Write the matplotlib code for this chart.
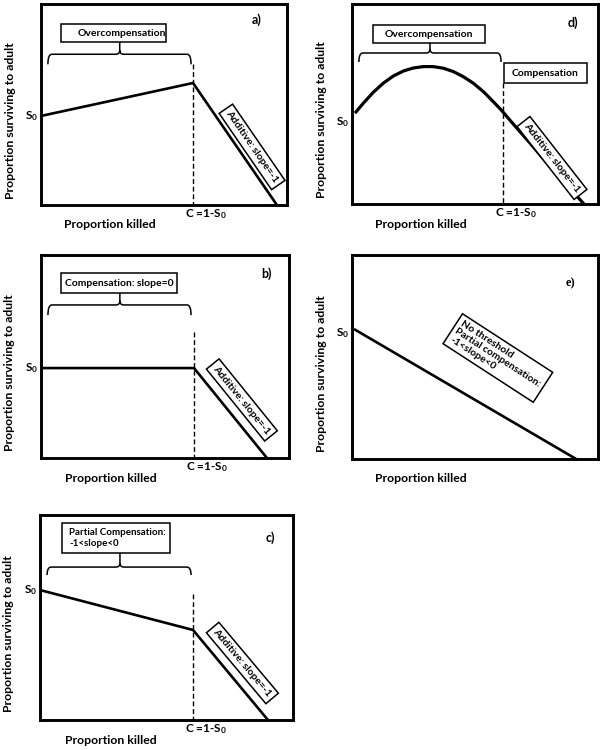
import numpy as np
import matplotlib
matplotlib.use('Agg')
import matplotlib.pyplot as plt
from matplotlib.path import Path
from matplotlib.patches import PathPatch, Rectangle

plt.rcParams['font.family'] = ['Lato', 'DejaVu Sans']
plt.rcParams['font.weight'] = 'bold'
plt.rcParams['mathtext.fontset'] = 'custom'
plt.rcParams['mathtext.rm'] = 'Lato:bold'
plt.rcParams['mathtext.it'] = 'Lato:bold'

# survival curves, x = proportion killed, y = proportion surviving (0..1 scale of each panel)
a_x = [0.0, 0.618, 0.959]
a_y = [0.443, 0.607, 0.0]
b_x = [0.0, 0.617, 0.911]
b_y = [0.443, 0.443, 0.0]
c_x = [0.0, 0.605, 0.901]
c_y = [0.634, 0.439, 0.0]
d_x = [0.012, 0.046, 0.087, 0.127, 0.168, 0.209, 0.249, 0.290, 0.330, 0.371, 0.412,
       0.452, 0.493, 0.534, 0.574, 0.609, 0.642, 0.724, 0.805, 0.886, 0.934, 0.943]
d_y = [0.454, 0.504, 0.559, 0.604, 0.640, 0.665, 0.680, 0.687, 0.687, 0.679, 0.662,
       0.637, 0.604, 0.562, 0.512, 0.467, 0.419, 0.304, 0.187, 0.079, 0.012, 0.0]
e_x = [0.008, 0.911]
e_y = [0.637, 0.0]

# threshold C = 1 - S0 for the panels that have one
thresh = {'a': 0.618, 'b': 0.617, 'c': 0.605, 'd': 0.614}

YLAB = 'Proportion surviving to adult'
XLAB = 'Proportion killed'
CLAB = 'C =1-S$_0$'
ADD = 'Additive: slope=-1'
BOXFS = 7.5

fig = plt.figure(figsize=(6.02, 7.5), dpi=100)


def px_axes(l, t, r, b):
    ax = fig.add_axes([l / 602, 1 - b / 750, (r - l) / 602, (b - t) / 750])
    ax.set_xlim(0, 1)
    ax.set_ylim(0, 1)
    ax.set_xticks([])
    ax.set_yticks([])
    for s in ax.spines.values():
        s.set_linewidth(2.1)
    return ax, r - l, b - t


def brace(ax, x0, x1, xm, yh, yleg, ytip, rx=0.016, ry=0.02):
    verts = [(x0, yleg), (x0, yh), (x0 + rx, yh), (xm - rx, yh), (xm, yh), (xm, yh + ry),
             (xm, ytip), (xm, yh + ry), (xm, yh), (xm + rx, yh), (x1 - rx, yh), (x1, yh), (x1, yleg)]
    codes = [Path.MOVETO, Path.CURVE3, Path.CURVE3, Path.LINETO, Path.CURVE3, Path.CURVE3,
             Path.LINETO, Path.MOVETO, Path.CURVE3, Path.CURVE3, Path.LINETO, Path.CURVE3, Path.CURVE3]
    ax.add_patch(PathPatch(Path(verts, codes), fc='none', ec='black', lw=1.1,
                           transform=ax.transAxes, clip_on=False))


def box(ax, x0, x1, y0, y1, txt, tx=None, fs=BOXFS, ha='center'):
    ax.add_patch(Rectangle((x0, y0), x1 - x0, y1 - y0, fc='white', ec='black', lw=1.1,
                           transform=ax.transAxes, clip_on=False, zorder=3))
    if tx is None:
        tx = (x0 + x1) / 2
    ax.text(tx, (y0 + y1) / 2, txt, transform=ax.transAxes, ha=ha, va='center',
            fontsize=fs, zorder=4, linespacing=1.3)


def rot_box(ax, x, y, txt, ang, fs=BOXFS):
    ax.text(x, y, txt, transform=ax.transAxes, rotation=ang, rotation_mode='anchor',
            ha='center', va='center', fontsize=fs, multialignment='left', linespacing=1.1,
            bbox=dict(boxstyle='square,pad=0.35', fc='white', ec='black', lw=1.1), zorder=4)


def common(ax, w, h, s0, tag, tag_xy, c=None, tag_font=None):
    ax.text(-31 / w, 0.42, YLAB, transform=ax.transAxes, rotation=90,
            ha='center', va='center', fontsize=8.8)
    ax.text(0.28, -20 / h, XLAB, transform=ax.transAxes, ha='center', va='center', fontsize=8.8)
    ax.text(-3 / w, s0, 'S$_0$', transform=ax.transAxes, ha='right', va='center', fontsize=8.5)
    if c is not None:
        ax.text(c - 8 / w, -9 / h, CLAB, transform=ax.transAxes, ha='left', va='center',
                fontsize=8.5)
    kw = {}
    if tag_font:
        kw['family'] = tag_font
    ax.text(tag_xy[0], tag_xy[1], tag, transform=ax.transAxes, ha='center', va='center',
            fontsize=9, **kw)


# panel a
ax, w, h = px_axes(41, 4, 287, 205)
ax.plot(a_x, a_y, color='black', lw=1.9, solid_capstyle='butt')
ax.plot([thresh['a'], thresh['a']], [0.70, 0], color='black', lw=1.0, ls=(0, (3.5, 2)))
box(ax, 0.081, 0.508, 0.81, 0.90, 'Overcompensation', tx=0.33)
brace(ax, 0.028, 0.61, 0.32, 0.75, 0.70, 0.81)
rot_box(ax, 0.858, 0.289, ADD, -55.5)
common(ax, w, h, a_y[0], 'a)', (0.878, 0.92), c=thresh['a'])

# panel d
ax, w, h = px_axes(352, 4, 598, 204)
ax.plot(d_x, d_y, color='black', lw=2.3, solid_capstyle='butt', solid_joinstyle='round')
ax.plot([thresh['d'], thresh['d']], [0.605, 0], color='black', lw=1.0, ls=(0, (3.5, 2)))
box(ax, 0.085, 0.541, 0.805, 0.895, 'Overcompensation')
brace(ax, 0.028, 0.606, 0.317, 0.755, 0.71, 0.805)
box(ax, 0.618, 0.955, 0.605, 0.705, 'Compensation')
rot_box(ax, 0.813, 0.23, ADD, -52)
common(ax, w, h, 0.41, 'd)', (0.90, 0.905), c=thresh['d'])

# panel b
ax, w, h = px_axes(41, 255, 289, 458)
ax.plot(b_x, b_y, color='black', lw=1.9, solid_capstyle='butt')
ax.plot([thresh['b'], thresh['b']], [0.62, 0], color='black', lw=1.0, ls=(0, (3.5, 2)))
box(ax, 0.081, 0.548, 0.813, 0.911, 'Compensation: slope=0')
brace(ax, 0.028, 0.605, 0.318, 0.754, 0.704, 0.813)
rot_box(ax, 0.81, 0.286, ADD, -51)
common(ax, w, h, b_y[0], 'b)', (0.91, 0.91), c=thresh['b'])

# panel e
ax, w, h = px_axes(352, 255, 598, 459)
ax.plot(e_x, e_y, color='black', lw=1.9, solid_capstyle='butt')
rot_box(ax, 0.593, 0.495, 'No threshold\nPartial compensation:\n-1<slope<0', -33)
common(ax, w, h, 0.615, 'e)', (0.886, 0.86), tag_font=['Liberation Serif'])

# panel c
ax, w, h = px_axes(40, 515, 293, 720)
ax.plot(c_x, c_y, color='black', lw=1.9, solid_capstyle='butt')
ax.plot([thresh['c'], thresh['c']], [0.615, 0], color='black', lw=1.0, ls=(0, (3.5, 2)))
box(ax, 0.087, 0.514, 0.815, 0.961, 'Partial Compensation:\n-1<slope<0', tx=0.115, ha='left',
    fs=7.0)
brace(ax, 0.028, 0.597, 0.316, 0.746, 0.707, 0.815)
rot_box(ax, 0.80, 0.278, ADD, -50)
common(ax, w, h, c_y[0], 'c)', (0.91, 0.89), c=thresh['c'])

fig.savefig('out.png', dpi=100)
